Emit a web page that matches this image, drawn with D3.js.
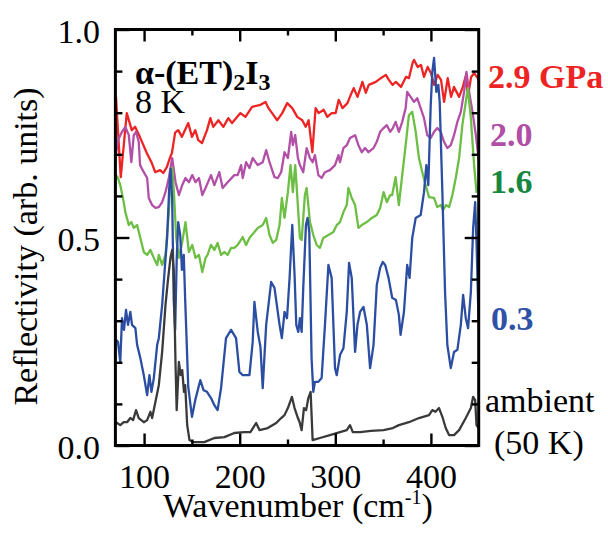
<!DOCTYPE html>
<html>
<head>
<meta charset="utf-8">
<script src="https://cdn.jsdelivr.net/npm/d3@7"></script>
<style>
  body { margin: 0; background: #fff; }
  svg { display: block; }
</style>
</head>
<body>
<svg id="chart" width="608" height="539"></svg>
<script>
// Far-infrared reflectivity of α-(ET)2I3 at 8 K under pressure, [wavenumber cm^-1, R]
const p29GPa = [
  [70.6,0.838],[75.6,0.645],[81.9,0.799],[87.1,0.758],[90.6,0.766],[94.8,0.746],[102.8,0.703],
  [108.1,0.679],[111.6,0.657],[116.8,0.662],[120,0.655],[123.8,0.669],[127.3,0.693],[129.1,0.703],
  [132.5,0.752],[135.7,0.758],[139.6,0.742],[146.2,0.775],[150.1,0.742],[153.5,0.758],[156.7,0.734],
  [160.6,0.727],[165.8,0.758],[169.3,0.787],[172.4,0.766],[177.7,0.782],[182.9,0.766],[188.1,0.787],
  [192,0.775],[200.8,0.799],[206,0.790],[213,0.814],[221.8,0.819],[227,0.826],[230.1,0.811],
  [235.4,0.794],[239.3,0.782],[244.5,0.799],[249.7,0.823],[255,0.811],[260.2,0.790],[265.5,0.782],
  [269,0.766],[272.1,0.782],[276,0.705],[279.4,0.811],[282.6,0.799],[287.8,0.807],[291.7,0.790],
  [296.2,0.799],[300.4,0.799],[303.6,0.831],[307.5,0.811],[312.7,0.823],[316.2,0.843],[319.3,0.859],
  [323.2,0.838],[328.4,0.874],[331.9,0.848],[335,0.867],[342.4,0.874],[347.6,0.883],[352.9,0.891],
  [356,0.879],[359.9,0.867],[363.4,0.874],[368.7,0.862],[373.9,0.886],[377,0.883],[380.9,0.920],
  [382.3,0.927],[386.2,0.910],[389.6,0.915],[392.8,0.886],[396.6,0.910],[400.1,0.895],[403.3,0.867],
  [407.1,0.891],[410.6,0.879],[413.8,0.826],[417.6,0.883],[421.1,0.838],[424.2,0.862],[429.5,0.838],
  [433.4,0.862],[436.8,0.891],[438.6,0.838],[442.1,0.886],[445.2,0.895],[449.1,0.883],[451,0.862]
];
const p20GPa = [
  [70.6,0.700],[72.7,0.734],[76.9,0.754],[80.4,0.766],[84,0.746],[86.7,0.681],[89.2,0.746],[91.6,0.754],
  [94.4,0.730],[95.8,0.674],[99.7,0.657],[103.2,0.643],[104.9,0.595],[108.4,0.578],[111.9,0.571],
  [115.4,0.573],[118.9,0.585],[122.4,0.609],[125.9,0.643],[129.4,0.691],[132.9,0.633],[136.4,0.602],
  [139.9,0.626],[143.3,0.643],[146.9,0.633],[150.4,0.650],[153.8,0.633],[157.4,0.643],[160.9,0.602],
  [164.3,0.619],[170,0.650],[173.5,0.626],[178.7,0.657],[182.2,0.619],[187.4,0.633],[194.4,0.650],
  [197.9,0.650],[201.5,0.674],[203.2,0.643],[206.7,0.681],[210.2,0.667],[213.6,0.691],[218.9,0.674],
  [224.1,0.681],[227.7,0.710],[231.2,0.681],[236.4,0.645],[239.9,0.643],[243.4,0.657],[246.9,0.705],
  [250.4,0.691],[253.9,0.754],[255.6,0.722],[258.1,0.746],[260.9,0.691],[263,0.674],[266.5,0.657],
  [270,0.715],[273.5,0.691],[276.3,0.681],[278.7,0.698],[282.3,0.650],[285.7,0.643],[289.2,0.657],
  [294.4,0.662],[299.7,0.674],[303.3,0.698],[304.9,0.681],[308.5,0.715],[312,0.722],[315.4,0.739],
  [320.7,0.746],[324.2,0.722],[327.7,0.705],[331.2,0.715],[334.7,0.705],[340,0.715],[343.4,0.730],
  [346.9,0.754],[350.5,0.763],[353.9,0.770],[357.4,0.754],[360.2,0.763],[363.1,0.778],[366.5,0.754],
  [370,0.778],[373.6,0.811],[375.2,0.850],[378.8,0.838],[382.3,0.826],[385.7,0.835],[389.3,0.811],
  [392.8,0.787],[396.2,0.746],[399.8,0.739],[403.3,0.754],[406.7,0.763],[410.3,0.754],[413.7,0.730],
  [417.2,0.715],[420.8,0.722],[424.2,0.746],[427.7,0.778],[431.3,0.802],[434.7,0.850],[437.2,0.898],
  [440,0.850],[443.5,0.802],[447,0.746],[449.8,0.691],[451,0.674]
];
const p16GPa = [
  [70.6,0.650],[72.7,0.643],[75.1,0.626],[78.7,0.585],[80.4,0.561],[84,0.530],[86.7,0.537],[89.2,0.523],
  [92.7,0.530],[96.1,0.499],[99.7,0.465],[103.2,0.458],[106.6,0.470],[110.2,0.451],[113.7,0.434],
  [115.4,0.458],[118.9,0.434],[122.4,0.458],[125.9,0.561],[127.6,0.643],[129.4,0.667],[131.2,0.609],
  [133.6,0.499],[136.4,0.451],[139.9,0.489],[143.3,0.537],[146.9,0.465],[150.4,0.482],[153.8,0.451],
  [157.4,0.458],[160.9,0.417],[164.3,0.451],[166.4,0.458],[170,0.482],[173.5,0.470],[176.9,0.487],
  [180.5,0.458],[184,0.465],[187.4,0.458],[191,0.475],[194.4,0.475],[197.9,0.482],[203.2,0.501],
  [206.7,0.482],[210.2,0.499],[215.4,0.513],[218.9,0.523],[224.1,0.530],[227.7,0.547],[231.2,0.506],
  [234.6,0.487],[238.2,0.494],[241.7,0.530],[244.1,0.595],[246.9,0.547],[250.4,0.609],[253.2,0.674],
  [255.6,0.609],[258.1,0.674],[260.5,0.590],[263,0.499],[264.8,0.494],[268.2,0.602],[270,0.619],
  [273.5,0.537],[277,0.506],[280.5,0.482],[283.9,0.475],[287.5,0.499],[292.8,0.506],[298,0.513],
  [301.5,0.530],[304.9,0.537],[308.5,0.561],[312,0.578],[313.7,0.619],[317.2,0.595],[320.7,0.578],
  [324.2,0.523],[327.7,0.530],[333,0.537],[338.2,0.547],[343.4,0.554],[346.9,0.571],[350.5,0.609],
  [353.9,0.585],[357.4,0.602],[359.5,0.602],[363.1,0.645],[366.5,0.578],[370,0.650],[373.6,0.722],
  [377,0.794],[380.5,0.802],[384.1,0.754],[387.5,0.691],[391,0.657],[394.5,0.626],[398,0.597],
  [403.3,0.595],[406.7,0.573],[410.3,0.578],[412.7,0.566],[415.8,0.578],[419,0.573],[422.5,0.602],
  [426,0.643],[429.5,0.691],[432.9,0.770],[436.5,0.826],[438.6,0.859],[441.8,0.787],[445.2,0.674],
  [447.7,0.609],[449.8,0.626],[451,0.638]
];
const p03GPa = [
  [70.6,0.254],[72.7,0.249],[75.1,0.201],[76.9,0.306],[79,0.278],[81.1,0.326],[83.2,0.290],[85.6,0.321],
  [87.4,0.290],[90.9,0.282],[92.7,0.242],[96.1,0.210],[99.7,0.169],[103.2,0.121],[105.6,0.169],
  [107.7,0.129],[110.2,0.162],[113.7,0.242],[115.4,0.258],[118.9,0.338],[121.7,0.427],[124.1,0.499],
  [126.2,0.614],[127.8,0.665],[129.4,0.590],[131,0.350],[132.5,0.278],[134.1,0.446],[135.7,0.537],
  [137.8,0.506],[139.6,0.422],[141.5,0.458],[143,0.350],[146.2,0.141],[150.1,0.069],[153.5,0.109],
  [158.8,0.157],[162.2,0.133],[165.8,0.129],[170,0.114],[173.5,0.097],[176.9,0.085],[180.5,0.138],
  [185.7,0.258],[191,0.278],[196.2,0.258],[199.7,0.177],[203.2,0.169],[210.2,0.169],[213.6,0.249],
  [215.4,0.345],[218.9,0.273],[221.7,0.237],[224.1,0.138],[227.7,0.290],[232.9,0.393],[236.4,0.379],
  [241.7,0.290],[244.1,0.258],[246.9,0.321],[249.5,0.306],[252.2,0.403],[255,0.530],[257.4,0.410],
  [259.2,0.290],[261.3,0.273],[263,0.306],[264.8,0.273],[266.5,0.379],[269.3,0.530],[271,0.547],
  [272.8,0.513],[275.2,0.210],[277,0.129],[278.7,0.153],[282.3,0.153],[285.7,0.162],[289.2,0.290],
  [292.8,0.434],[296.2,0.403],[299.7,0.186],[301.5,0.169],[305,0.218],[308.5,0.234],[312,0.321],
  [314.4,0.439],[317.2,0.403],[320.7,0.225],[323.2,0.290],[325.9,0.321],[329.5,0.333],[333,0.290],
  [336.4,0.186],[340,0.242],[343.4,0.386],[346.9,0.427],[349.7,0.441],[352.2,0.434],[355.7,0.403],
  [359.5,0.355],[363.4,0.350],[366.5,0.314],[368.3,0.266],[371.8,0.321],[375.2,0.434],[377.7,0.403],
  [380.5,0.499],[384.1,0.547],[389.3,0.554],[392.8,0.609],[395.2,0.674],[397.3,0.626],[399.8,0.818],
  [401.5,0.898],[403.3,0.932],[405.7,0.850],[407.8,0.867],[409.2,0.826],[412,0.609],[414.8,0.369],
  [417.2,0.242],[420.8,0.186],[424.2,0.225],[427.7,0.230],[431.3,0.290],[433.7,0.362],[436.5,0.306],
  [438.9,0.282],[441.8,0.369],[444.2,0.523],[446.3,0.585],[447.7,0.489],[449.8,0.306],[451,0.278]
];
const ambient50K = [
  [70.6,0.056],[75.1,0.049],[78.7,0.056],[82.2,0.056],[85.6,0.066],[88.5,0.061],[91.6,0.085],[94.4,0.066],
  [99.7,0.056],[103.2,0.061],[106.6,0.081],[108.4,0.066],[111.9,0.105],[115.4,0.145],[118.9,0.225],
  [122.4,0.338],[125.2,0.403],[127.6,0.451],[129.4,0.470],[131,0.422],[132.9,0.194],[134.1,0.085],
  [136.4,0.201],[138.3,0.169],[139.9,0.181],[141.7,0.129],[143,0.145],[145.1,0.049],[147.5,0.013],
  [151.7,0.008],[163,0.008],[173.5,0.018],[184,0.020],[194.4,0.030],[204.9,0.032],[211.2,0.032],
  [217.2,0.054],[220.7,0.037],[229.4,0.042],[238.2,0.054],[243.4,0.066],[246.9,0.073],[250.4,0.090],
  [254.6,0.117],[257.4,0.090],[260.9,0.066],[262.7,0.056],[264.8,0.037],[267.2,0.090],[269.5,0.085],
  [271.8,0.114],[274.2,0.129],[276.3,0.013],[283.9,0.018],[294.4,0.025],[304.9,0.032],[312,0.037],
  [315.4,0.049],[318.3,0.032],[325.9,0.032],[337.2,0.035],[350.5,0.037],[360.2,0.042],[366.5,0.049],
  [377,0.056],[387.5,0.066],[398,0.073],[401.5,0.085],[404.8,0.081],[408.5,0.090],[412,0.069],
  [415.5,0.042],[419,0.025],[424.2,0.025],[429.5,0.037],[436.5,0.066],[441.8,0.090],[444.2,0.117],
  [446.3,0.109],[447.7,0.049],[449.8,0.042],[451,0.037]
];

const xMajorTicks = [100, 200, 300, 400];
const xMinorTicks = [150, 250, 350];
const yMajorTicks = [0.0, 0.5, 1.0];
const yMinorTicks = [0.1, 0.2, 0.3, 0.4, 0.6, 0.7, 0.8, 0.9];

const seriesNames = ["2.9 GPa", "2.0", "1.6", "0.3", "ambient"];
const lineColors = ["#ee2424", "#b24fa6", "#6cbe44", "#2b4ea2", "#3a3a3a"];
const labelColors = ["#ee2424", "#b04fa5", "#17873f", "#3052a6", "#000000"];

const FONT = '"Liberation Serif", "Times New Roman", Times, serif';
const fs = 34;

const svg = d3.select("#chart");
const m = { left: 115.4, right: 478.7, top: 29.5, bottom: 445.5 };
const x = d3.scaleLinear().domain([70, 450]).range([m.left, m.right]);
const y = d3.scaleLinear().domain([0, 1]).range([m.bottom, m.top]);

svg.append("defs").append("clipPath").attr("id", "plotClip")
  .append("rect").attr("x", m.left).attr("y", m.top)
  .attr("width", m.right - m.left).attr("height", m.bottom - m.top);

// spectra
const line = d3.line().x(d => x(d[0])).y(d => y(d[1]));
const spectra = [p29GPa, p20GPa, p16GPa, p03GPa, ambient50K];
const g = svg.append("g").attr("clip-path", "url(#plotClip)");
spectra.forEach((s, i) => {
  g.append("path").datum(s).attr("d", line)
    .attr("fill", "none").attr("stroke", lineColors[i])
    .attr("stroke-width", 2.3).attr("stroke-linejoin", "round");
});

// axes with inward ticks on all four sides
function styleAxis(sel) {
  sel.select(".domain").remove();
  sel.selectAll("line").attr("stroke", "#000").attr("stroke-width", 2.4);
  sel.selectAll("text").attr("fill", "#000")
    .style("font-family", FONT).style("font-size", fs + "px");
}
svg.append("g").attr("transform", `translate(0,${m.bottom})`)
  .call(d3.axisBottom(x).tickValues(xMajorTicks).tickFormat(d3.format("d")).tickSizeInner(-12).tickSizeOuter(0).tickPadding(18.5))
  .call(styleAxis);
svg.append("g").attr("transform", `translate(0,${m.bottom})`)
  .call(d3.axisBottom(x).tickValues(xMinorTicks).tickFormat("").tickSizeInner(-6).tickSizeOuter(0))
  .call(styleAxis);
svg.append("g").attr("transform", `translate(0,${m.top})`)
  .call(d3.axisTop(x).tickValues(xMajorTicks).tickFormat("").tickSizeInner(-12).tickSizeOuter(0))
  .call(styleAxis);
svg.append("g").attr("transform", `translate(0,${m.top})`)
  .call(d3.axisTop(x).tickValues(xMinorTicks).tickFormat("").tickSizeInner(-6).tickSizeOuter(0))
  .call(styleAxis);
svg.append("g").attr("transform", `translate(${m.left},0)`)
  .call(d3.axisLeft(y).tickValues(yMajorTicks).tickFormat(d3.format(".1f")).tickSizeInner(-14).tickSizeOuter(0).tickPadding(15.5))
  .call(styleAxis)
  .selectAll("text").attr("dy", "0.38em");
svg.append("g").attr("transform", `translate(${m.left},0)`)
  .call(d3.axisLeft(y).tickValues(yMinorTicks).tickFormat("").tickSizeInner(-7).tickSizeOuter(0))
  .call(styleAxis);
svg.append("g").attr("transform", `translate(${m.right},0)`)
  .call(d3.axisRight(y).tickValues(yMajorTicks).tickFormat("").tickSizeInner(-14).tickSizeOuter(0))
  .call(styleAxis);
svg.append("g").attr("transform", `translate(${m.right},0)`)
  .call(d3.axisRight(y).tickValues(yMinorTicks).tickFormat("").tickSizeInner(-7).tickSizeOuter(0))
  .call(styleAxis);

// frame
svg.append("rect").attr("x", m.left).attr("y", m.top)
  .attr("width", m.right - m.left).attr("height", m.bottom - m.top)
  .attr("fill", "none").attr("stroke", "#000").attr("stroke-width", 3);

function txt(xp, yp) {
  return svg.append("text").attr("x", xp).attr("y", yp)
    .style("font-family", FONT).style("font-size", fs + "px");
}

// axis titles
txt(163, 517).call(t => {
  t.append("tspan").text("Wavenumber (cm");
  t.append("tspan").style("font-size", "20px").attr("dy", -13).text("-1");
  t.append("tspan").attr("dy", 13).text(")");
});
svg.append("text").attr("transform", "translate(37,246.5) rotate(-90)")
  .attr("text-anchor", "middle")
  .style("font-family", FONT).style("font-size", fs + "px")
  .text("Reflectivity (arb. units)");

// sample / temperature
txt(135, 84).style("font-weight", "bold").call(t => {
  t.append("tspan").text("α-(ET)");
  t.append("tspan").style("font-size", "24px").attr("dy", 6).text("2");
  t.append("tspan").attr("dy", -6).text("I");
  t.append("tspan").style("font-size", "24px").attr("dy", 6).text("3");
});
txt(135, 113).text("8 K");

// series labels at right
const labelPos = [[488, 88], [490, 146], [490, 193], [491, 330], [485, 412]];
seriesNames.forEach((n, i) => {
  txt(labelPos[i][0], labelPos[i][1])
    .style("font-weight", i < 4 ? "bold" : "normal")
    .attr("fill", labelColors[i]).text(n);
});
txt(494, 454).text("(50 K)");
</script>
</body>
</html>
